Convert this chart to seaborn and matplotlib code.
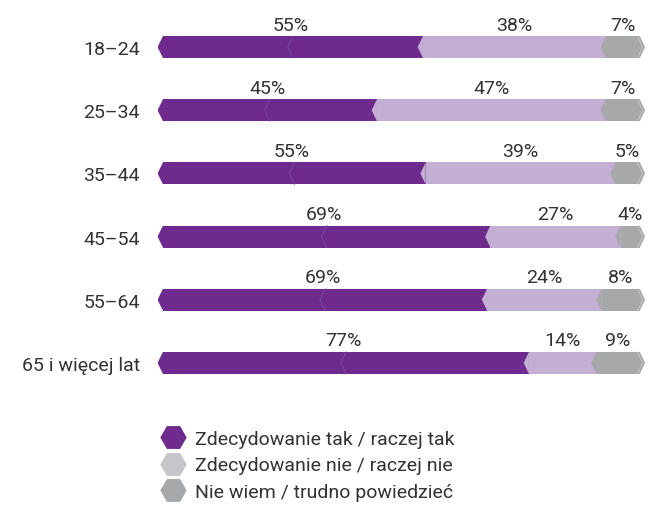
import seaborn as sns
import matplotlib.pyplot as plt
import pandas as pd
from matplotlib.patches import Polygon
from matplotlib.lines import Line2D

# Dane
groups = ['18–24', '25–34', '35–44', '45–54', '55–64', '65 i więcej lat']
tak = [55, 45, 55, 69, 69, 77]
nie = [38, 47, 39, 27, 24, 14]
nie_wiem = [7, 7, 5, 4, 8, 9]
series_names = ['Zdecydowanie tak / raczej tak',
                'Zdecydowanie nie / raczej nie',
                'Nie wiem / trudno powiedzieć']

c_tak = '#6E2A8C'
c_nie = '#C3AED4'
c_nw = '#A7A8AA'
c_text = '#333333'

df = pd.DataFrame({'grupa': groups, 'tak': tak, 'nie': nie, 'nw': nie_wiem})
total = df['tak'] + df['nie'] + df['nw']
df['s1'] = df['tak'] / total * 100
df['s2'] = (df['tak'] + df['nie']) / total * 100
df['s3'] = 100.0

sns.set_style('white')
plt.rcParams['font.family'] = ['Roboto', 'DejaVu Sans']

fig = plt.figure(figsize=(6.48, 5.06), dpi=100)
ax = fig.add_axes([158 / 648, 1 - 395.5 / 506, (647 - 158) / 648, 379 / 506])

bw = 0.35
for col, colr in [('s3', c_nw), ('s2', c_nie), ('s1', c_tak)]:
    sns.barplot(data=df, x=col, y='grupa', orient='h', color=colr, width=bw,
                saturation=1, linewidth=0, ax=ax)

h = bw / 2
d = 1.1
for i, row in df.iterrows():
    # lewy koniec - ścięte narożniki
    ax.add_patch(Polygon([(-0.1, i - h - 0.01), (d, i - h - 0.01), (-0.1, i)],
                         color='white', lw=0, zorder=5, clip_on=False))
    ax.add_patch(Polygon([(-0.1, i + h + 0.01), (d, i + h + 0.01), (-0.1, i)],
                         color='white', lw=0, zorder=5, clip_on=False))
    # szewrony na granicach
    for b, col in [(row['s1'], c_nie), (row['s2'], c_nw)]:
        ax.add_patch(Polygon([(b, i - h), (b - d, i), (b, i + h)], color=col,
                             lw=0, zorder=5))
    # prawy koniec
    ax.add_patch(Polygon([(100, i - h), (100 + d, i), (100, i + h)], color=c_nw,
                         lw=0, zorder=5, clip_on=False))
    ax.plot([100 - 0.5, 100 + d - 0.5, 100 - 0.5], [i - h, i, i + h],
            color='#C4C4C6', lw=0.7, zorder=6)
    c = row['s1'] / 2
    ax.plot([c + d / 2, c - d / 2, c + d / 2], [i - h, i, i + h],
            color='#8048A0', lw=0.7, zorder=6)

    # etykiety procentowe
    starts = [0, row['s1'], row['s2']]
    ends = [row['s1'], row['s2'], 100]
    vals = [row['tak'], row['nie'], row['nw']]
    for s, e, v in zip(starts, ends, vals):
        ax.text((s + e) / 2, i - h - 0.04, f'{v}%', ha='center', va='bottom',
                fontsize=14, color=c_text)

ax.set_xlim(0, 101.5)
ax.set_ylim(5.5, -0.5)
ax.set_xlabel('')
ax.set_ylabel('')
ax.set_xticks([])
ax.tick_params(axis='y', length=0, pad=13, labelsize=14, labelcolor=c_text)
sns.despine(ax=ax, left=True, bottom=True)

handles = [Line2D([], [], marker='H', ls='', markersize=19, markeredgewidth=0,
                  color=col) for col in [c_tak, '#C6C5C9', c_nw]]
fig.legend(handles, series_names, loc='upper left', bbox_to_anchor=(150 / 648, 1 - 421 / 506),
           frameon=False, fontsize=14, labelcolor=c_text, handletextpad=0.4,
           labelspacing=0.45, borderpad=0, handlelength=1.4)

fig.savefig('out.png', dpi=100)
